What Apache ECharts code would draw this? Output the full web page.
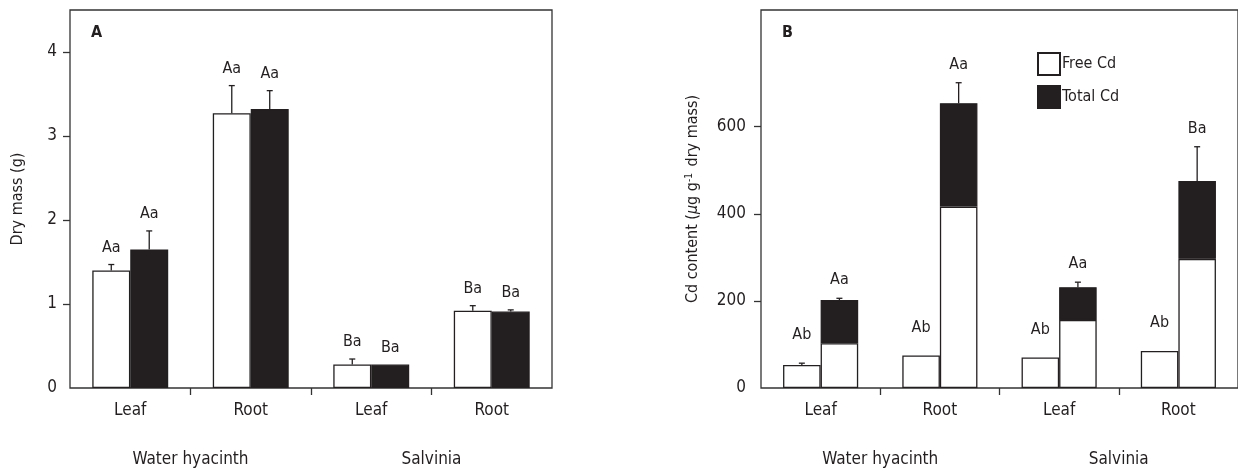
<!DOCTYPE html>
<html><head><meta charset="utf-8">
<script src="https://cdn.jsdelivr.net/npm/echarts@6/dist/echarts.min.js"></script>
<style>html,body{margin:0;padding:0;background:#fff}#c{width:1238px;height:472px}</style>
</head><body><div id="c"></div>
<script>
// ---------- data ----------
const categories = ['Leaf', 'Root', 'Leaf', 'Root'];
const groups = ['Water hyacinth', 'Salvinia'];

// Panel A: dry mass (g)
const dryWhite = [1.40, 3.27, 0.28, 0.92];
const dryWhiteErr = [0.07, 0.33, 0.065, 0.06];
const dryBlack = [1.65, 3.32, 0.28, 0.91];
const dryBlackErr = [0.22, 0.22, 0, 0.02];
const dryWhiteLabels = ['Aa', 'Aa', 'Ba', 'Ba'];
const dryBlackLabels = ['Aa', 'Aa', 'Ba', 'Ba'];
const ticksA = [0, 1, 2, 3, 4];

// Panel B: Cd content (µg g-1 dry mass)
const freeCd1 = [52.7, 74.8, 70.2, 84.9];
const freeCd1Err = [4.3, 0, 0, 0];
const freeCd2 = [103, 416.5, 156, 296.6];
const totalCd = [202, 654, 231.6, 475.5];
const totalCdErr = [4, 47, 11.4, 78.5];
const freeCd1Labels = ['Ab', 'Ab', 'Ab', 'Ab'];
const totalCdLabels = ['Aa', 'Aa', 'Aa', 'Ba'];
const ticksB = [0, 200, 400, 600];

// ---------- style ----------
const FONT = "'Liberation Sans Narrow', 'Arial Narrow', 'DejaVu Sans Condensed', sans-serif";
const INK = '#231f20';
const LINE = '#333333';
const CAT_GAP = 0.37;
const HALF = (1 - CAT_GAP) / 4; // offset of each bar centre from category centre

const chart = echarts.init(document.getElementById('c'), null, {renderer: 'canvas'});

function errSeries(xi, yi, means, errs, labels, side, gap) {
  return {
    type: 'custom', xAxisIndex: xi, yAxisIndex: yi, z: 10, silent: true,
    data: means.map((m, i) => [i, m, errs[i]]),
    encode: {x: 0, y: 1},
    renderItem(params, api) {
      const i = api.value(0), m = api.value(1), e = api.value(2);
      const w = api.size([1, 0])[0];
      const p = api.coord([i, m]);
      const x = p[0] + side * w * HALF;
      const yTop = api.coord([i, m + e])[1];
      const ls = {stroke: INK, lineWidth: 1.3};
      const ch = [];
      if (e > 0) {
        ch.push({type: 'line', shape: {x1: x, y1: p[1], x2: x, y2: yTop}, style: ls});
        ch.push({type: 'line', shape: {x1: x - 3, y1: yTop, x2: x + 3, y2: yTop}, style: ls});
      }
      ch.push({type: 'text', style: {text: labels[params.dataIndex], x: x, y: yTop - gap,
        align: 'center', verticalAlign: 'bottom', fontSize: 16, fontFamily: FONT, fill: INK}});
      return {type: 'group', children: ch};
    }
  };
}

const whiteStyle = {color: '#ffffff', borderColor: INK, borderWidth: 1.3};
const blackStyle = {color: INK, borderColor: INK, borderWidth: 1.3};

function mainX(gi) {
  return {type: 'category', gridIndex: gi, data: categories, position: 'bottom',
    axisLine: {show: false}, axisTick: {show: false},
    axisLabel: {fontSize: 17, fontFamily: FONT, color: INK, margin: 14}};
}
function groupX(gi) {
  return {type: 'category', gridIndex: gi, data: groups, position: 'bottom', offset: 50,
    axisLine: {show: false}, axisTick: {show: false},
    axisLabel: {fontSize: 17, fontFamily: FONT, color: INK, margin: 13}};
}
function tickX(gi) {
  return {type: 'value', gridIndex: gi, min: 0, max: categories.length, position: 'bottom',
    axisLine: {show: false}, splitLine: {show: false}, axisLabel: {show: false},
    axisTick: {show: true, inside: false, length: 7, customValues: [1, 2, 3], lineStyle: {color: LINE, width: 1.3}}};
}

const option = {
  animation: false,
  backgroundColor: '#ffffff',
  title: [
    {text: 'A', left: 91, top: 25, padding: 0, textStyle: {fontSize: 16, fontWeight: 'bold', fontFamily: FONT, color: INK}},
    {text: 'B', left: 782, top: 25, padding: 0, textStyle: {fontSize: 16, fontWeight: 'bold', fontFamily: FONT, color: INK}}
  ],
  legend: {
    data: ['Free Cd', 'Total Cd'], orient: 'vertical', left: 1037, top: 52, padding: 0,
    itemWidth: 22, itemHeight: 22, itemGap: 9, icon: 'rect', selectedMode: false,
    textStyle: {fontSize: 16, fontFamily: FONT, color: INK, padding: [0, 0, 0, -3]}
  },
  grid: [
    {left: 70, top: 10, width: 482, height: 378, show: true, borderColor: LINE, borderWidth: 1.3, backgroundColor: 'transparent'},
    {left: 761, top: 10, right: -2, height: 378, show: true, borderColor: LINE, borderWidth: 1.3, backgroundColor: 'transparent'}
  ],
  xAxis: [mainX(0), groupX(0), tickX(0), mainX(1), groupX(1), tickX(1)],
  yAxis: [
    {type: 'value', gridIndex: 0, min: 0, max: 4.5,
      name: 'Dry mass (g)', nameLocation: 'middle', nameRotate: 90, nameGap: 44,
      nameTextStyle: {fontSize: 16, fontFamily: FONT, color: INK},
      axisLine: {show: false}, splitLine: {show: false},
      axisTick: {show: true, length: 7, customValues: ticksA.slice(1), lineStyle: {color: LINE, width: 1.3}},
      axisLabel: {customValues: ticksA, fontSize: 17, fontFamily: FONT, color: INK, margin: 13}},
    {type: 'value', gridIndex: 1, min: 0, max: 868,
      name: '{n|Cd content (}{i|μ}{n|g g}{s|-1}{n| dry mass)}', nameLocation: 'middle', nameRotate: 90, nameGap: 60,
      nameTextStyle: {fontSize: 16, fontFamily: FONT, color: INK,
        rich: {n: {fontSize: 16, fontFamily: FONT, color: INK},
               i: {fontSize: 16, fontFamily: FONT, color: INK, fontStyle: 'italic'},
               s: {fontSize: 10, fontFamily: FONT, color: INK, verticalAlign: 'top', padding: [0, 2, 7, 0]}}},
      axisLine: {show: false}, splitLine: {show: false},
      axisTick: {show: true, length: 7, customValues: ticksB.slice(1), lineStyle: {color: LINE, width: 1.3}},
      axisLabel: {customValues: ticksB, fontSize: 17, fontFamily: FONT, color: INK, margin: 15}}
  ],
  series: [
    {name: 'Panel A white', type: 'bar', xAxisIndex: 0, yAxisIndex: 0, data: dryWhite,
      barGap: '0%', barCategoryGap: (CAT_GAP * 100) + '%', itemStyle: whiteStyle},
    {name: 'Panel A black', type: 'bar', xAxisIndex: 0, yAxisIndex: 0, data: dryBlack,
      barGap: '0%', barCategoryGap: (CAT_GAP * 100) + '%', itemStyle: blackStyle},
    errSeries(0, 0, dryWhite, dryWhiteErr, dryWhiteLabels, -1, 9),
    errSeries(0, 0, dryBlack, dryBlackErr, dryBlackLabels, 1, 9),

    {name: 'Free Cd', type: 'bar', xAxisIndex: 3, yAxisIndex: 1, data: freeCd1,
      barGap: '0%', barCategoryGap: (CAT_GAP * 100) + '%', itemStyle: whiteStyle},
    {name: 'Free Cd', type: 'bar', xAxisIndex: 3, yAxisIndex: 1, stack: 'cd', data: freeCd2,
      barGap: '0%', barCategoryGap: (CAT_GAP * 100) + '%', itemStyle: whiteStyle},
    {name: 'Total Cd', type: 'bar', xAxisIndex: 3, yAxisIndex: 1, stack: 'cd',
      data: totalCd.map((t, i) => +(t - freeCd2[i]).toFixed(2)),
      barGap: '0%', barCategoryGap: (CAT_GAP * 100) + '%', itemStyle: blackStyle},
    errSeries(3, 1, freeCd1, freeCd1Err, freeCd1Labels, -1, 20),
    errSeries(3, 1, totalCd, totalCdErr, totalCdLabels, 1, 10)
  ]
};
chart.setOption(option);
</script></body></html>
